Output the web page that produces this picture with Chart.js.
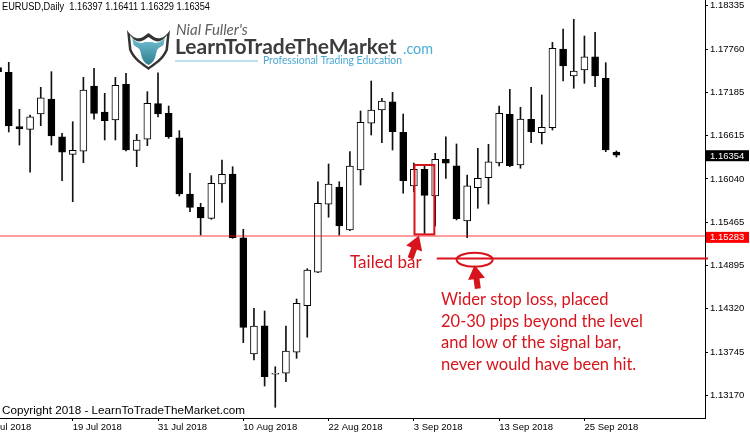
<!DOCTYPE html>
<html>
<head>
<meta charset="utf-8">
<script src="https://cdn.jsdelivr.net/npm/chart.js@4.4.1/dist/chart.umd.min.js"></script>
<style>
  html, body { margin: 0; padding: 0; background: #fff; }
  #wrap { position: relative; width: 750px; height: 436px; }
</style>
</head>
<body>
<div id="wrap"><canvas id="CandleChart"></canvas></div>
<script>
// EURUSD daily bars, 10 Jul - 28 Sep 2018
const days = [
  '10 Jul 2018','11 Jul 2018','12 Jul 2018','13 Jul 2018','16 Jul 2018','17 Jul 2018','18 Jul 2018','19 Jul 2018',
  '20 Jul 2018','23 Jul 2018','24 Jul 2018','25 Jul 2018','26 Jul 2018','27 Jul 2018','30 Jul 2018','31 Jul 2018',
  '1 Aug 2018','2 Aug 2018','3 Aug 2018','6 Aug 2018','7 Aug 2018','8 Aug 2018','9 Aug 2018','10 Aug 2018',
  '13 Aug 2018','14 Aug 2018','15 Aug 2018','16 Aug 2018','17 Aug 2018','20 Aug 2018','21 Aug 2018','22 Aug 2018',
  '23 Aug 2018','24 Aug 2018','27 Aug 2018','28 Aug 2018','29 Aug 2018','30 Aug 2018','31 Aug 2018',
  '3 Sep 2018','4 Sep 2018','5 Sep 2018','6 Sep 2018','7 Sep 2018','10 Sep 2018','11 Sep 2018','12 Sep 2018',
  '13 Sep 2018','14 Sep 2018','17 Sep 2018','18 Sep 2018','19 Sep 2018','20 Sep 2018','21 Sep 2018','24 Sep 2018',
  '25 Sep 2018','26 Sep 2018','27 Sep 2018','28 Sep 2018'
];
const opens = [
  1.17514,1.17453,1.16732,1.16697,1.16900,1.17099,1.16599,1.16366,
  1.16406,1.17271,1.16927,1.16821,1.17294,1.16419,1.16565,1.17037,
  1.16909,1.16586,1.15840,1.15664,1.15518,1.15973,1.16105,1.15261,
  1.13720,1.14095,1.13452,1.13465,1.13743,1.14360,1.14803,1.15704,
  1.15933,1.15363,1.16158,1.16777,1.16953,1.17063,1.16658,
  1.15946,1.16167,1.15814,1.16300,1.16215,1.15483,1.15924,1.16056,
  1.16251,1.16896,1.16224,1.16830,1.16652,1.16719,1.17761,1.17404,
  1.17483,1.17659,1.17373,1.16397
];
const highs = [
  1.17616,1.17585,1.16962,1.16887,1.17254,1.17461,1.16644,1.16798,
  1.17386,1.17506,1.17174,1.17386,1.17439,1.16631,1.17196,1.17447,
  1.17006,1.16679,1.16114,1.15717,1.16083,1.16291,1.16202,1.15373,
  1.14326,1.14290,1.13552,1.14091,1.14449,1.14851,1.16003,1.16238,
  1.16003,1.16401,1.16940,1.17337,1.17108,1.17188,1.16900,
  1.16251,1.16211,1.16379,1.16599,1.16503,1.16092,1.16446,1.16499,
  1.17006,1.17227,1.16989,1.17254,1.17152,1.17850,1.18026,1.18155,
  1.17934,1.17983,1.17580,1.16411
];
const lows = [
  1.17351,1.16662,1.16489,1.16128,1.16745,1.16489,1.16016,1.15738,
  1.16255,1.16830,1.16556,1.16556,1.16410,1.16202,1.16480,1.16860,
  1.16578,1.15814,1.15606,1.15297,1.15505,1.15730,1.15253,1.13870,
  1.13641,1.13296,1.13014,1.13353,1.13663,1.13942,1.14798,1.15532,
  1.15297,1.15354,1.15959,1.16622,1.16520,1.16423,1.15850,
  1.15871,1.15318,1.15416,1.16048,1.15496,1.15261,1.15651,1.15708,
  1.16211,1.16202,1.16181,1.16520,1.16503,1.16688,1.17337,1.17241,
  1.17307,1.17262,1.16401,1.16329
];
const closes = [
  1.17461,1.16741,1.16701,1.16864,1.17116,1.16609,1.16393,1.16419,
  1.17218,1.16909,1.16811,1.17280,1.16423,1.16556,1.17042,1.16900,
  1.16599,1.15840,1.15664,1.15522,1.15982,1.16101,1.15261,1.14074,
  1.14091,1.13420,1.13455,1.13760,1.14392,1.14833,1.15717,1.15973,
  1.15416,1.16211,1.16790,1.16953,1.17072,1.16666,1.16016,
  1.16167,1.15823,1.16300,1.16247,1.15513,1.15950,1.16048,1.16268,
  1.16909,1.16215,1.16834,1.16666,1.16724,1.17771,1.17536,1.17470,
  1.17659,1.17404,1.16423,1.16354
];

const xTickLabels = ['9 Jul 2018','19 Jul 2018','31 Jul 2018','10 Aug 2018','22 Aug 2018','3 Sep 2018','13 Sep 2018','25 Sep 2018'];
const yTickValues = [1.18335,1.17760,1.17185,1.16615,1.16040,1.15465,1.14895,1.14320,1.13745,1.13170];

const supportLevel = 1.15283;
const stopLevel = 1.14985;
const signalDay = '4 Sep 2018';
const title = 'EURUSD,Daily  1.16397 1.16411 1.16329 1.16354';
const noteLines = ['Wider stop loss, placed', '20-30 pips beyond the level', 'and low of the signal bar,', 'never would have been hit.'];

const RED = '#d7141b';
const axisFont = { family: '"Liberation Sans", Arial, sans-serif', size: 9.5 };

function arrow(ctx, x0, y0, x1, y1) {
  const ang = Math.atan2(y1 - y0, x1 - x0);
  const len = Math.hypot(x1 - x0, y1 - y0);
  ctx.save();
  ctx.translate(x1, y1);
  ctx.rotate(ang);
  ctx.beginPath();
  ctx.moveTo(0, 0);
  ctx.lineTo(-14, -8.5);
  ctx.lineTo(-14, -3);
  ctx.lineTo(-len, -3);
  ctx.lineTo(-len, 3);
  ctx.lineTo(-14, 3);
  ctx.lineTo(-14, 8.5);
  ctx.closePath();
  ctx.fill();
  ctx.restore();
}

function drawLogo(ctx) {
  ctx.save();
  // shield
  ctx.fillStyle = '#333';
  ctx.beginPath();
  ctx.moveTo(127, 30);
  ctx.bezierCurveTo(132, 38, 138, 40, 143, 37);
  ctx.lineTo(148.5, 33);
  ctx.lineTo(154, 37);
  ctx.bezierCurveTo(159, 40, 165, 38, 170, 30);
  ctx.lineTo(168, 50);
  ctx.bezierCurveTo(164, 60, 155, 65, 148.5, 70);
  ctx.bezierCurveTo(142, 65, 133, 60, 129, 50);
  ctx.closePath();
  ctx.fill();
  ctx.fillStyle = '#fff';
  ctx.beginPath();
  ctx.moveTo(130, 35);
  ctx.bezierCurveTo(134, 41, 139, 43, 144, 40);
  ctx.lineTo(148.5, 37);
  ctx.lineTo(153, 40);
  ctx.bezierCurveTo(158, 43, 163, 41, 167, 35);
  ctx.lineTo(165.5, 49.5);
  ctx.bezierCurveTo(162, 58, 154, 63, 148.5, 67);
  ctx.bezierCurveTo(143, 63, 135, 58, 131.5, 49.5);
  ctx.closePath();
  ctx.fill();
  // bull head
  const g = ctx.createLinearGradient(0, 34, 0, 66);
  g.addColorStop(0, '#7cc9da');
  g.addColorStop(1, '#2c7b8e');
  ctx.fillStyle = g;
  ctx.beginPath();
  ctx.moveTo(132, 37);
  ctx.bezierCurveTo(136, 43, 141, 44, 145, 42);
  ctx.lineTo(152, 42);
  ctx.bezierCurveTo(156, 44, 161, 43, 165, 37);
  ctx.lineTo(163.5, 45);
  ctx.bezierCurveTo(161, 47, 158.5, 47.5, 157, 50);
  ctx.lineTo(155, 58);
  ctx.bezierCurveTo(153, 62, 151, 64, 148.5, 65);
  ctx.bezierCurveTo(146, 64, 144, 62, 142, 58);
  ctx.lineTo(140, 50);
  ctx.bezierCurveTo(138.5, 47.5, 136, 47, 133.5, 45);
  ctx.closePath();
  ctx.fill();

  ctx.textBaseline = 'alphabetic';
  ctx.textAlign = 'left';
  ctx.fillStyle = '#5f5f5f';
  ctx.font = 'italic 15px Lato';
  ctx.fillText("Nial Fuller's", 176, 35, 74);
  ctx.fillStyle = '#3c3c3c';
  ctx.font = 'bold 21px Lato';
  ctx.fillText('LearnToTradeTheMarket', 175, 53.5, 227);
  ctx.fillStyle = '#4aafd7';
  ctx.font = '16px Lato';
  ctx.fillText('.com', 403, 53.5, 30);
  ctx.strokeStyle = '#a6d6e9';
  ctx.lineWidth = 1.5;
  ctx.beginPath();
  ctx.moveTo(175, 61);
  ctx.lineTo(258, 61);
  ctx.stroke();
  ctx.fillStyle = '#4aa9d4';
  ctx.font = '10.5px Lato';
  ctx.fillText('Professional Trading Education', 263, 64, 139);
  ctx.restore();
}

const annotate = {
  id: 'annotate',
  afterDatasetsDraw(chart) {
    const { ctx, chartArea: a, scales: { x, y } } = chart;
    ctx.save();
    // support level
    const ys = y.getPixelForValue(supportLevel);
    ctx.strokeStyle = 'rgba(255,0,0,0.38)';
    ctx.lineWidth = 2;
    ctx.beginPath();
    ctx.moveTo(a.left, ys);
    ctx.lineTo(a.right, ys);
    ctx.stroke();

    // box around signal bar
    const si = days.indexOf(signalDay);
    const rx0 = x.getPixelForValue(si - 0.94), rx1 = x.getPixelForValue(si + 0.92);
    const ry0 = y.getPixelForValue(highs[si]) - 1, ry1 = y.getPixelForValue(lows[si]) + 1;
    ctx.strokeStyle = RED;
    ctx.lineWidth = 2;
    ctx.strokeRect(rx0, ry0, rx1 - rx0, ry1 - ry0);

    // wider stop line + ellipse
    const yStop = y.getPixelForValue(stopLevel);
    ctx.beginPath();
    ctx.moveTo(x.getPixelForValue(si + 1.15), yStop);
    ctx.lineTo(a.right + 3, yStop);
    ctx.stroke();
    ctx.beginPath();
    ctx.ellipse(x.getPixelForValue(si + 4.7), yStop + 1.2, 18, 7, 0, 0, Math.PI * 2);
    ctx.stroke();

    ctx.fillStyle = RED;
    arrow(ctx, rx0 - 4, ry1 + 24, rx0 + 4.5, ry1 + 1);
    arrow(ctx, x.getPixelForValue(si + 5), yStop + 30, x.getPixelForValue(si + 4.7), yStop + 6.5);

    ctx.font = '17px Lato';
    ctx.textBaseline = 'alphabetic';
    ctx.fillText('Tailed bar', 350, 268.3);
    ctx.font = '16.5px Lato';
    noteLines.forEach((t, i) => ctx.fillText(t, 441, 305 + i * 21.6));
    ctx.restore();
  },
  afterDraw(chart) {
    const { ctx, chartArea: a, scales: { y } } = chart;
    ctx.save();
    // price tags on the axis
    const tag = (v, bg, dy) => {
      const py = y.getPixelForValue(v) + dy;
      ctx.fillStyle = bg;
      ctx.fillRect(a.right + 1, py - 5.5, 43, 11);
      ctx.fillStyle = '#fff';
      ctx.font = '9.5px "Liberation Sans", Arial, sans-serif';
      ctx.textBaseline = 'middle';
      ctx.textAlign = 'left';
      ctx.fillText(v.toFixed(5), a.right + 5, py + 0.5);
    };
    tag(closes[closes.length - 1], '#000', 0.5);
    tag(supportLevel, '#ff0000', 1.3);

    ctx.fillStyle = '#000';
    ctx.textBaseline = 'alphabetic';
    ctx.textAlign = 'left';
    ctx.font = '10px "Liberation Sans", Arial, sans-serif';
    ctx.fillText(title, 2, 10.3, 208);
    ctx.font = '11.7px "Liberation Sans", Arial, sans-serif';
    ctx.fillText('Copyright 2018 - LearnToTradeTheMarket.com', 2, 413.5, 243);
    ctx.restore();
    drawLogo(ctx);
  }
};

const bodyData = days.map((d, i) => ({ x: i, y: [opens[i], closes[i]] }));
const wickData = days.map((d, i) => ({ x: i, y: [lows[i], highs[i]] }));
const bodyColors = days.map((d, i) => closes[i] >= opens[i] ? '#ffffff' : '#000000');

const config = {
  type: 'bar',
  data: {
    datasets: [
      {
        label: 'body',
        data: bodyData,
        backgroundColor: bodyColors,
        borderColor: '#000',
        borderWidth: 1,
        borderSkipped: false,
        barThickness: 7,
        minBarLength: 1,
        grouped: false,
        clip: 0
      },
      {
        label: 'wick',
        data: wickData,
        backgroundColor: '#111',
        borderWidth: 0,
        barThickness: 1,
        grouped: false,
        clip: 0
      }
    ]
  },
  options: {
    responsive: true,
    maintainAspectRatio: false,
    animation: false,
    devicePixelRatio: 1,
    layout: { padding: 0 },
    plugins: { legend: { display: false }, tooltip: { enabled: false } },
    scales: {
      x: {
        type: 'linear',
        offset: false,
        min: 0.178,
        max: 66.31,
        // '9 Jul 2018' is the bar before the first one, indexOf gives -1
        afterBuildTicks: s => { s.ticks = xTickLabels.map(l => ({ value: days.indexOf(l) })); },
        ticks: {
          autoSkip: false, maxRotation: 0, align: 'start', padding: 1,
          color: '#000', font: axisFont,
          callback: (v, i) => xTickLabels[i]
        },
        grid: { offset: false, drawOnChartArea: false, drawTicks: true, tickLength: 3, color: '#000' },
        border: { display: true, color: '#000' },
        afterFit: s => { s.height = 18; s.paddingLeft = 0; s.paddingRight = 0; }
      },
      y: {
        position: 'right',
        min: 1.128724,
        max: 1.184105,
        afterBuildTicks: s => { s.ticks = yTickValues.map(v => ({ value: v })); },
        ticks: {
          autoSkip: false, padding: 2, color: '#000', font: axisFont,
          callback: v => v.toFixed(5)
        },
        grid: { drawOnChartArea: false, drawTicks: true, tickLength: 3, color: '#000' },
        border: { display: true, color: '#000' },
        afterFit: s => { s.width = 45; s.paddingTop = 0; s.paddingBottom = 0; }
      }
    }
  },
  plugins: [annotate]
};

var myChart = new Chart(document.getElementById('CandleChart'), config);
</script>
</body>
</html>
